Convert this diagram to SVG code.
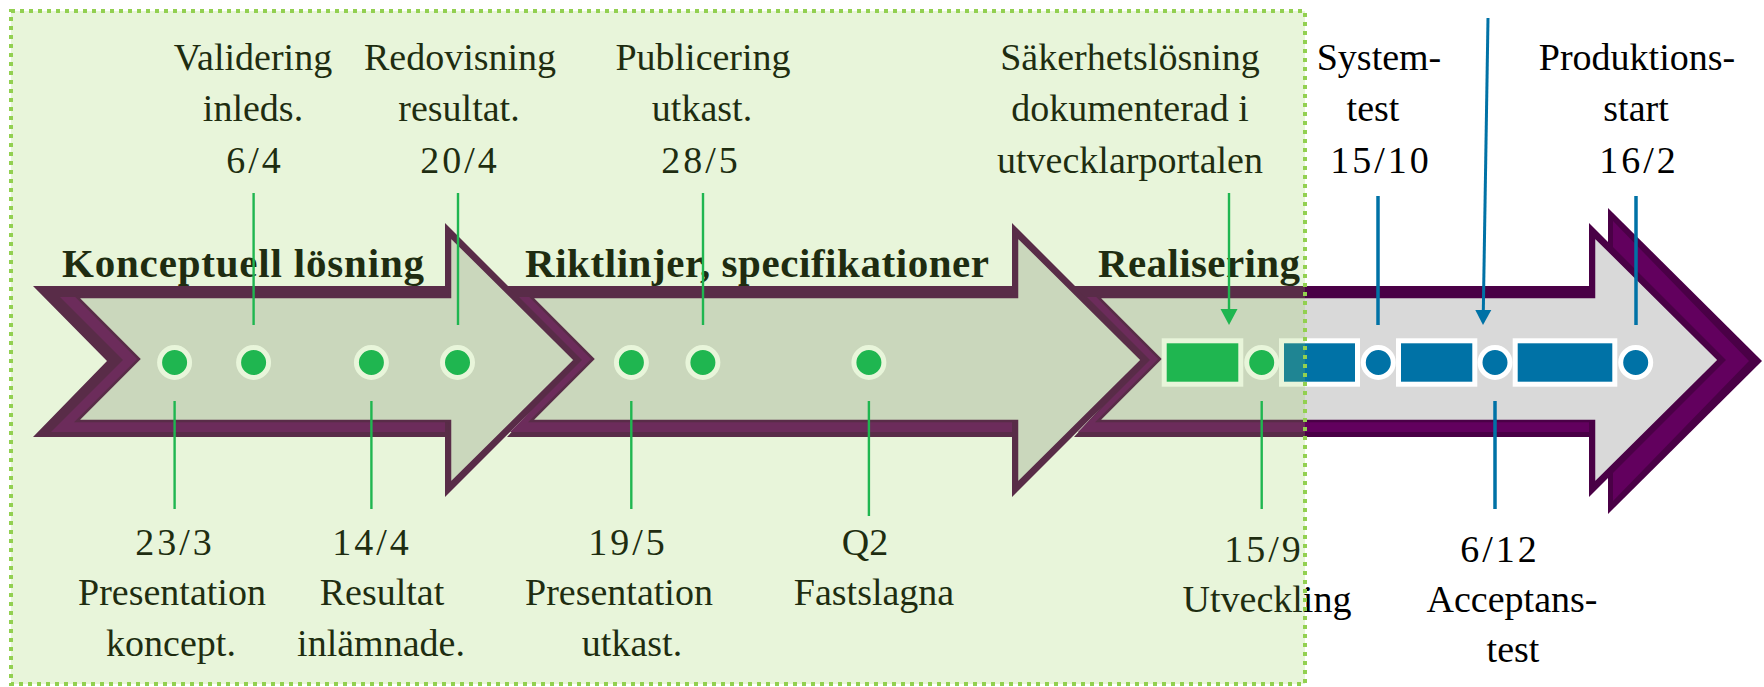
<svg xmlns="http://www.w3.org/2000/svg" width="1764" height="687" viewBox="0 0 1764 687">
<style>
.outer{fill:#4A0046}
.mid{fill:#62005E}
.inner{fill:#D9D9D9;stroke:#4A0046;stroke-width:2.5;stroke-linejoin:miter}
.lbl{font-family:"Liberation Serif","Times New Roman",serif;font-size:38px;fill:#000;text-anchor:middle}
.dt{letter-spacing:3px}
.hd{font-family:"Liberation Serif","Times New Roman",serif;font-size:41px;font-weight:bold;fill:#000}
.g{fill:#00B050;stroke:#fff;stroke-width:5}
.b{fill:#0072A6;stroke:#fff;stroke-width:5}
.gl{stroke:#00B050;stroke-width:2.4;fill:none}
.bl{stroke:#0072A6;stroke-width:3.5;fill:none}
</style>
<rect width="1764" height="687" fill="#fff"/>
<g id="arrows">
  <g id="arrow-konceptuell">
    <polygon class="outer" points="33,286 445,286 445,223 582,360 445,497 445,437 33,437 107,361"/>
    <polygon class="mid" points="60,297 445,297 445,432 51,432 123,360"/>
    <polygon class="inner" points="77,297 450,297 450,236 575,360 450,484 450,421 77,421 139,359"/>
  </g>
  <g id="arrow-riktlinjer">
    <polygon class="outer" points="507,286 1012,286 1012,223 1149,360 1012,497 1012,437 507,437 575,361"/>
    <polygon class="mid" points="519,297 1012,297 1012,432 510,432 582,360"/>
    <polygon class="inner" points="531,297 1017,297 1017,236 1142,360 1017,484 1017,421 531,421 593,359"/>
  </g>
  <g id="arrow-realisering">
    <polygon class="outer" points="1608,208 1762,361 1608,514"/>
    <polygon class="mid" points="1613,221 1749,361 1613,501"/>
    <polygon class="outer" points="1074,286 1589,286 1589,223 1726,360 1589,497 1589,437 1074,437 1143,361"/>
    <polygon class="mid" points="1087,297 1589,297 1589,432 1078,432 1150,360"/>
    <polygon class="inner" points="1098,297 1594,297 1594,236 1719,360 1594,484 1594,421 1098,421 1160,359"/>
  </g>
</g>
<g id="phases">
  <text class="hd" x="62" y="277" textLength="362">Konceptuell lösning</text>
  <text class="hd" x="525" y="277" textLength="464">Riktlinjer, specifikationer</text>
  <text class="hd" x="1098" y="277" textLength="202">Realisering</text>
</g>
<g id="m-23-3">
  <circle class="g" cx="174.6" cy="362.5" r="15"/>
  <text class="lbl dt" x="175" y="555">23/3</text>
  <text class="lbl" x="172" y="605">Presentation</text>
  <text class="lbl" x="171" y="656">koncept.</text>
</g>
<g id="m-6-4">
  <circle class="g" cx="253.6" cy="362.5" r="15"/>
  <text class="lbl" x="253" y="70">Validering</text>
  <text class="lbl" x="253" y="121">inleds.</text>
  <text class="lbl dt" x="255" y="173">6/4</text>
</g>
<g id="m-14-4">
  <circle class="g" cx="371.4" cy="362.5" r="15"/>
  <text class="lbl dt" x="372" y="555">14/4</text>
  <text class="lbl" x="382" y="605">Resultat</text>
  <text class="lbl" x="381" y="656">inlämnade.</text>
</g>
<g id="m-20-4">
  <circle class="g" cx="457.5" cy="362.5" r="15"/>
  <text class="lbl" x="460" y="70">Redovisning</text>
  <text class="lbl" x="459" y="121">resultat.</text>
  <text class="lbl dt" x="460" y="173">20/4</text>
</g>
<g id="m-19-5">
  <circle class="g" cx="631.4" cy="362.5" r="15"/>
  <text class="lbl dt" x="628" y="555">19/5</text>
  <text class="lbl" x="619" y="605">Presentation</text>
  <text class="lbl" x="632" y="656">utkast.</text>
</g>
<g id="m-28-5">
  <circle class="g" cx="702.9" cy="362.5" r="15"/>
  <text class="lbl" x="703" y="70">Publicering</text>
  <text class="lbl" x="702" y="121">utkast.</text>
  <text class="lbl dt" x="701" y="173">28/5</text>
</g>
<g id="m-q2">
  <circle class="g" cx="868.9" cy="362.5" r="15"/>
  <text class="lbl" x="865" y="555">Q2</text>
  <text class="lbl" x="874" y="605">Fastslagna</text>
</g>
<g id="m-sakerhet">
  <rect class="g" x="1164.2" y="340.8" width="76.6" height="43.4"/>
  <text class="lbl" x="1130" y="70">Säkerhetslösning</text>
  <text class="lbl" x="1130" y="121">dokumenterad i</text>
  <text class="lbl" x="1130" y="173">utvecklarportalen</text>
</g>
<g id="m-15-9">
  <circle class="g" cx="1261.7" cy="362.5" r="15"/>
  <text class="lbl dt" x="1264" y="562">15/9</text>
  <text class="lbl" x="1267" y="612">Utveckling</text>
</g>
<g id="m-bar-1"><rect class="b" x="1281.5" y="340.8" width="76" height="43.4"/></g>
<g id="m-15-10">
  <circle class="b" cx="1378.3" cy="362.5" r="15"/>
  <text class="lbl" x="1379" y="70">System-</text>
  <text class="lbl" x="1373" y="121">test</text>
  <text class="lbl dt" x="1381" y="173">15/10</text>
</g>
<g id="m-bar-2"><rect class="b" x="1398.5" y="340.8" width="76.3" height="43.4"/></g>
<g id="m-6-12">
  <circle class="b" cx="1495" cy="362.5" r="15"/>
  <text class="lbl dt" x="1500" y="562">6/12</text>
  <text class="lbl" x="1512" y="612">Acceptans-</text>
  <text class="lbl" x="1513" y="662">test</text>
</g>
<g id="m-bar-3"><rect class="b" x="1515.2" y="340.8" width="99.6" height="43.4"/></g>
<g id="m-16-2">
  <circle class="b" cx="1635.7" cy="362.5" r="15"/>
  <text class="lbl" x="1637" y="70">Produktions-</text>
  <text class="lbl" x="1636" y="121">start</text>
  <text class="lbl dt" x="1639" y="173">16/2</text>
</g>
<g id="connectors">
  <line class="gl" x1="253.6" y1="193" x2="253.6" y2="325"/>
  <line class="gl" x1="458" y1="193" x2="458" y2="325"/>
  <line class="gl" x1="703" y1="193" x2="703" y2="325"/>
  <line class="gl" x1="1229" y1="193" x2="1229" y2="311"/>
  <polygon fill="#00B050" points="1220.5,309 1237.5,309 1229,325"/>
  <line class="bl" x1="1378" y1="196" x2="1378" y2="325"/>
  <line class="bl" x1="1636" y1="196" x2="1636" y2="325"/>
  <line class="bl" x1="1488" y1="18" x2="1483.3" y2="312" style="stroke-width:3"/>
  <polygon fill="#0072A6" points="1475.3,310 1491.3,310 1483,325"/>
  <line class="gl" x1="174.6" y1="401" x2="174.6" y2="509"/>
  <line class="gl" x1="371.4" y1="401" x2="371.4" y2="509"/>
  <line class="gl" x1="631.3" y1="401" x2="631.3" y2="509"/>
  <line class="gl" x1="868.9" y1="401" x2="868.9" y2="516"/>
  <line class="gl" x1="1261.7" y1="401" x2="1261.7" y2="509"/>
  <line class="bl" x1="1495" y1="401" x2="1495" y2="509"/>
</g>
<g id="highlight">
  <rect x="11" y="11" width="1294" height="673" fill="#92D050" fill-opacity="0.21" stroke="#92D050" stroke-width="4" stroke-dasharray="4 5"/>
</g>
</svg>
